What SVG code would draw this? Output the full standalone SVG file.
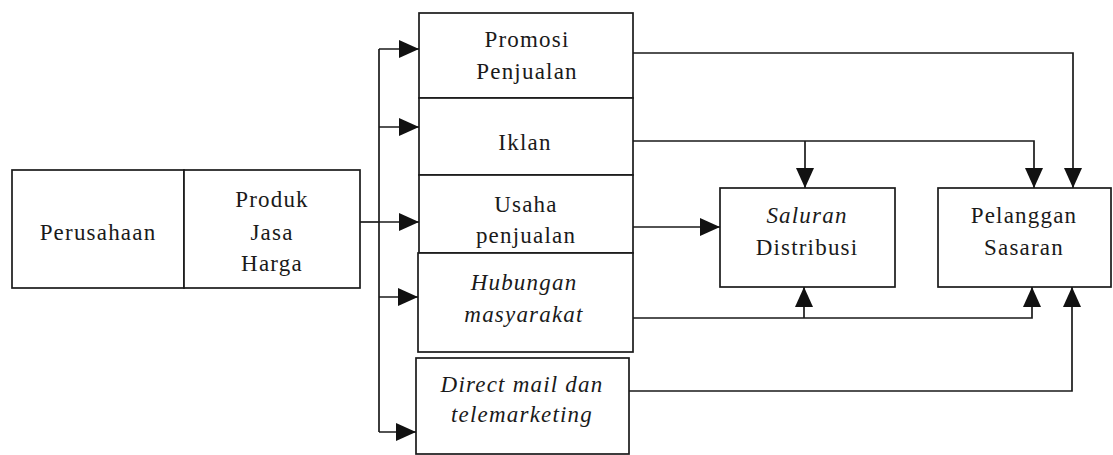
<svg xmlns="http://www.w3.org/2000/svg" width="1113" height="455" viewBox="0 0 1113 455">
  <style>
    .box { fill: #ffffff; stroke: #1a1a1a; stroke-width: 1.7; }
    .wire { fill: none; stroke: #1a1a1a; stroke-width: 1.7; }
    .lbl { font-family: "Liberation Serif", "Times New Roman", serif; font-size: 23px; letter-spacing: 1.2px; fill: #1a1a1a; text-anchor: middle; }
    .it { font-style: italic; }
  </style>
  <defs>
    <marker id="arrow" viewBox="0 0 20 18" refX="20" refY="9" markerWidth="20" markerHeight="18" markerUnits="userSpaceOnUse" orient="auto">
      <path d="M0,0 L20,9 L0,18 Z" fill="#111111"/>
    </marker>
  </defs>
  <rect width="1113" height="455" fill="#ffffff"/>

  <!-- Source block: company and offering -->
  <g id="perusahaan">
    <rect class="box" x="12" y="170" width="172" height="118"/>
    <text class="lbl" x="98" y="240">Perusahaan</text>
  </g>
  <g id="produk">
    <rect class="box" x="184" y="170" width="176" height="118"/>
    <text class="lbl" x="272" y="207">Produk</text>
    <text class="lbl" x="272" y="240">Jasa</text>
    <text class="lbl" x="272" y="271">Harga</text>
  </g>

  <!-- Promotion mix column -->
  <g id="promosi">
    <rect class="box" x="419" y="13" width="214" height="85"/>
    <text class="lbl" x="527" y="47">Promosi</text>
    <text class="lbl" x="527" y="79">Penjualan</text>
  </g>
  <g id="iklan">
    <rect class="box" x="419" y="98" width="214" height="77"/>
    <text class="lbl" x="525" y="150">Iklan</text>
  </g>
  <g id="usaha">
    <rect class="box" x="419" y="175" width="214" height="78"/>
    <text class="lbl" x="526" y="212">Usaha</text>
    <text class="lbl" x="526" y="243">penjualan</text>
  </g>
  <g id="hubungan">
    <rect class="box" x="418" y="253" width="215" height="99"/>
    <text class="lbl it" x="524" y="290">Hubungan</text>
    <text class="lbl it" x="524" y="322">masyarakat</text>
  </g>
  <g id="direct-mail">
    <rect class="box" x="416" y="358" width="213" height="96"/>
    <text class="lbl it" x="522" y="392">Direct mail dan</text>
    <text class="lbl it" x="522" y="422">telemarketing</text>
  </g>

  <!-- Destinations -->
  <g id="saluran">
    <rect class="box" x="720" y="188" width="175" height="99"/>
    <text class="lbl it" x="807" y="223">Saluran</text>
    <text class="lbl" x="807" y="255">Distribusi</text>
  </g>
  <g id="pelanggan">
    <rect class="box" x="938" y="188" width="173" height="99"/>
    <text class="lbl" x="1024" y="223">Pelanggan</text>
    <text class="lbl" x="1024" y="255">Sasaran</text>
  </g>

  <!-- Connectors -->
  <g id="connectors">
    <!-- distribution bus from the offering to each promotion tool -->
    <path class="wire" d="M360,222 H379"/>
    <path class="wire" d="M379,49 V432"/>
    <path class="wire" d="M379,49 H419" marker-end="url(#arrow)"/>
    <path class="wire" d="M379,127 H419" marker-end="url(#arrow)"/>
    <path class="wire" d="M379,222 H419" marker-end="url(#arrow)"/>
    <path class="wire" d="M379,297 H418" marker-end="url(#arrow)"/>
    <path class="wire" d="M379,432 H416" marker-end="url(#arrow)"/>

    <!-- promotion tools to channel and customers -->
    <path class="wire" d="M633,53 H1073 V188" marker-end="url(#arrow)"/>
    <path class="wire" d="M633,141 H1034 V188" marker-end="url(#arrow)"/>
    <path class="wire" d="M805,141 V188" marker-end="url(#arrow)"/>
    <path class="wire" d="M633,227 H720" marker-end="url(#arrow)"/>
    <path class="wire" d="M633,318 H1032 V287" marker-end="url(#arrow)"/>
    <path class="wire" d="M804,318 V287" marker-end="url(#arrow)"/>
    <path class="wire" d="M629,391 H1072 V287" marker-end="url(#arrow)"/>
  </g>
</svg>
